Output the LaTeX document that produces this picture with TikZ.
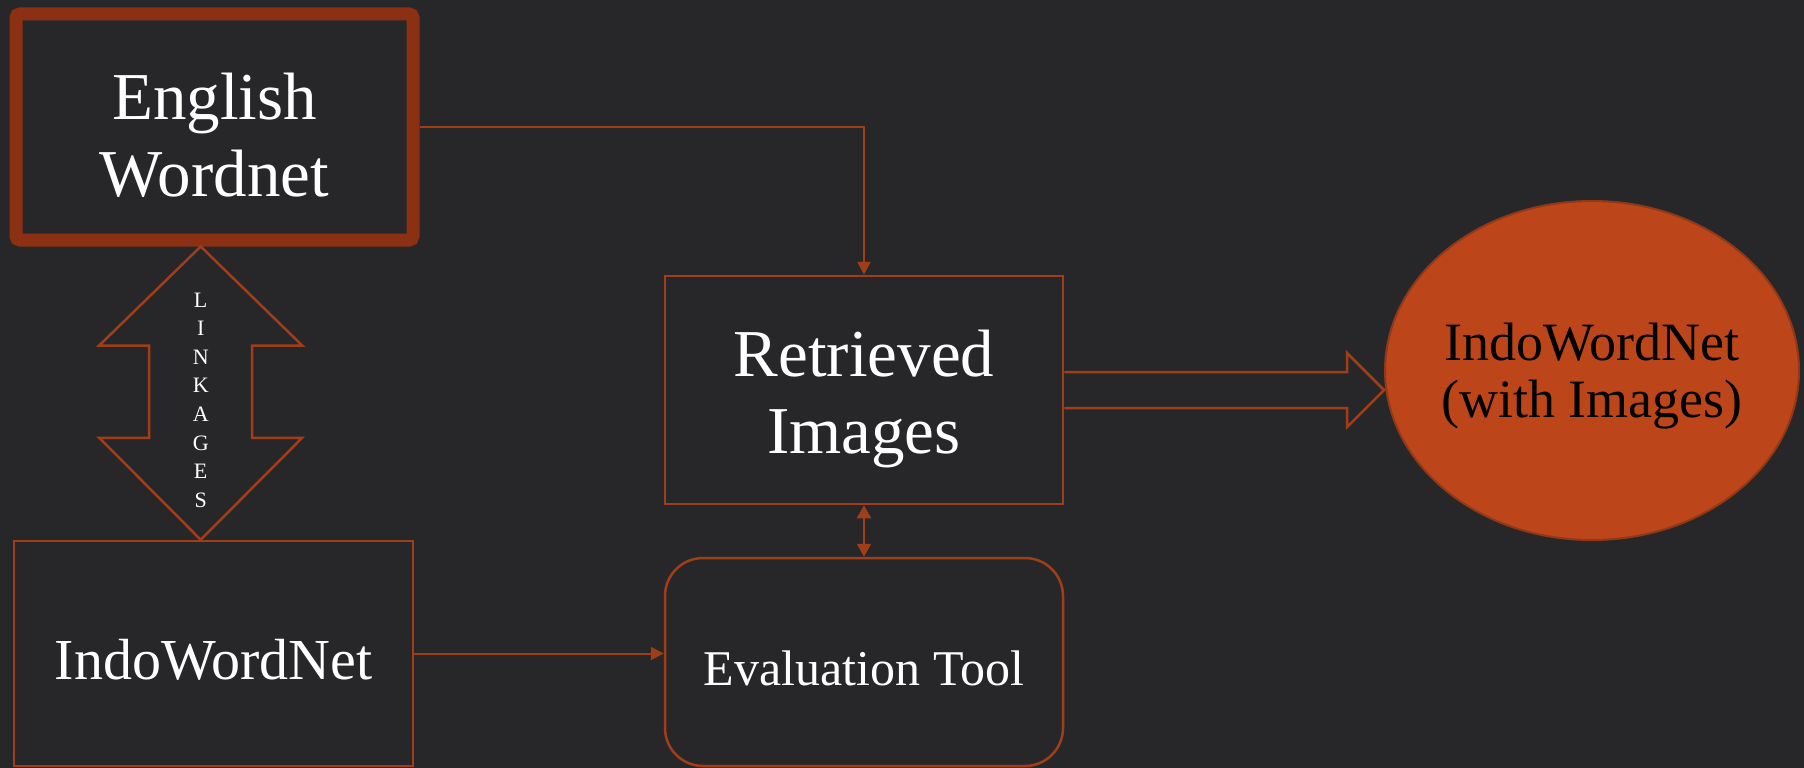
\documentclass[tikz,border=0pt]{standalone}
\usepackage{fontspec}
\setmainfont{Liberation Serif}
\usepackage{tikz}
\usetikzlibrary{arrows.meta}
\usetikzlibrary{calc}
\usetikzlibrary{shapes}

\definecolor{slate}{HTML}{27272A}
\definecolor{rust}{HTML}{A03E1A}
\definecolor{rustdark}{HTML}{8C3014}
\definecolor{rustfill}{HTML}{BC4619}

\tikzset{
    box/.style={rectangle,draw=rust,line width=2.5pt,inner sep=0pt},
    txt/.style={text=white,align=center,inner sep=0pt,draw=none},
    bigtext/.style={font=\fontsize{67}{77}\selectfont},
    conn/.style={draw=rust,line width=2pt,-{Triangle[length=13pt,width=13pt]}},
    blockarr/.style={draw=rust,line width=2.5pt,line join=miter}
}

\begin{document}
\begin{tikzpicture}[x=1pt,y=-1pt]
    \fill[slate] (0,0) rectangle (1804,768);
    \useasboundingbox (0,0) rectangle (1804,768);

    \node[box,line width=13pt,draw=rustdark,rounded corners=4pt,minimum width=397pt,minimum height=226pt,
        label={[txt,bigtext,yshift=-8pt]center:English\\Wordnet}] (english) at (214.5,127) {};
    \node[box,minimum width=398pt,minimum height=228pt,
        label={[txt,bigtext,yshift=-9pt]center:Retrieved\\Images}] (retrieved) at (864,390) {};
    \node[box,rounded corners=38pt,minimum width=398pt,minimum height=208pt,
        label={[txt,font=\fontsize{50}{60}\selectfont,yshift=-6pt]center:Evaluation Tool}] (eval) at (864,662) {};
    \node[box,minimum width=399pt,minimum height=225pt,
        label={[txt,font=\fontsize{58}{66}\selectfont,yshift=-6pt]center:IndoWordNet}] (iwn) at (213.5,653.5) {};
    \node[ellipse,fill=rustfill,draw=rust!90!black,line width=2pt,minimum width=414pt,minimum height=339pt,
        label={[txt,text=black,font=\fontsize{54}{57}\selectfont,yshift=-6pt]center:IndoWordNet\\(with Images)}] (result) at (1592,370.5) {};
    \node[txt,font=\fontsize{22}{28.6}\selectfont] (lk) at (200.7,400) {L\\I\\N\\K\\A\\G\\E\\S};

    % thin connectors
    \draw[conn] (english.east) -| (retrieved.north);
    \draw[conn,{Triangle[length=13pt,width=14pt]}-{Triangle[length=13pt,width=14pt]}] (retrieved.south) -- (eval.north);
    \draw[conn] (iwn.east) -- (iwn.east -| eval.west);

    % block arrows
    \coordinate (lkt) at (english.south -| lk);
    \coordinate (lkb) at (iwn.north -| lk);
    \draw[blockarr] (lkt) -- ($(lkt)+(101.5,99)$) -- ($(lkt)+(51.5,99)$) -- ($(lkb)+(51.5,-102)$) -- ($(lkb)+(101.5,-102)$) -- (lkb)
        -- ($(lkb)+(-101.5,-102)$) -- ($(lkb)+(-51.5,-102)$) -- ($(lkt)+(-51.5,99)$) -- ($(lkt)+(-101.5,99)$) -- cycle;
    \coordinate (tip) at (retrieved.east -| result.west);
    \draw[blockarr] ($(retrieved.east)+(0,-18)$) -- ($(tip)+(-37,-18)$) -- ($(tip)+(-37,-37)$) -- (tip)
        -- ($(tip)+(-37,37)$) -- ($(tip)+(-37,18)$) -- ($(retrieved.east)+(0,18)$);
\end{tikzpicture}
\end{document}
